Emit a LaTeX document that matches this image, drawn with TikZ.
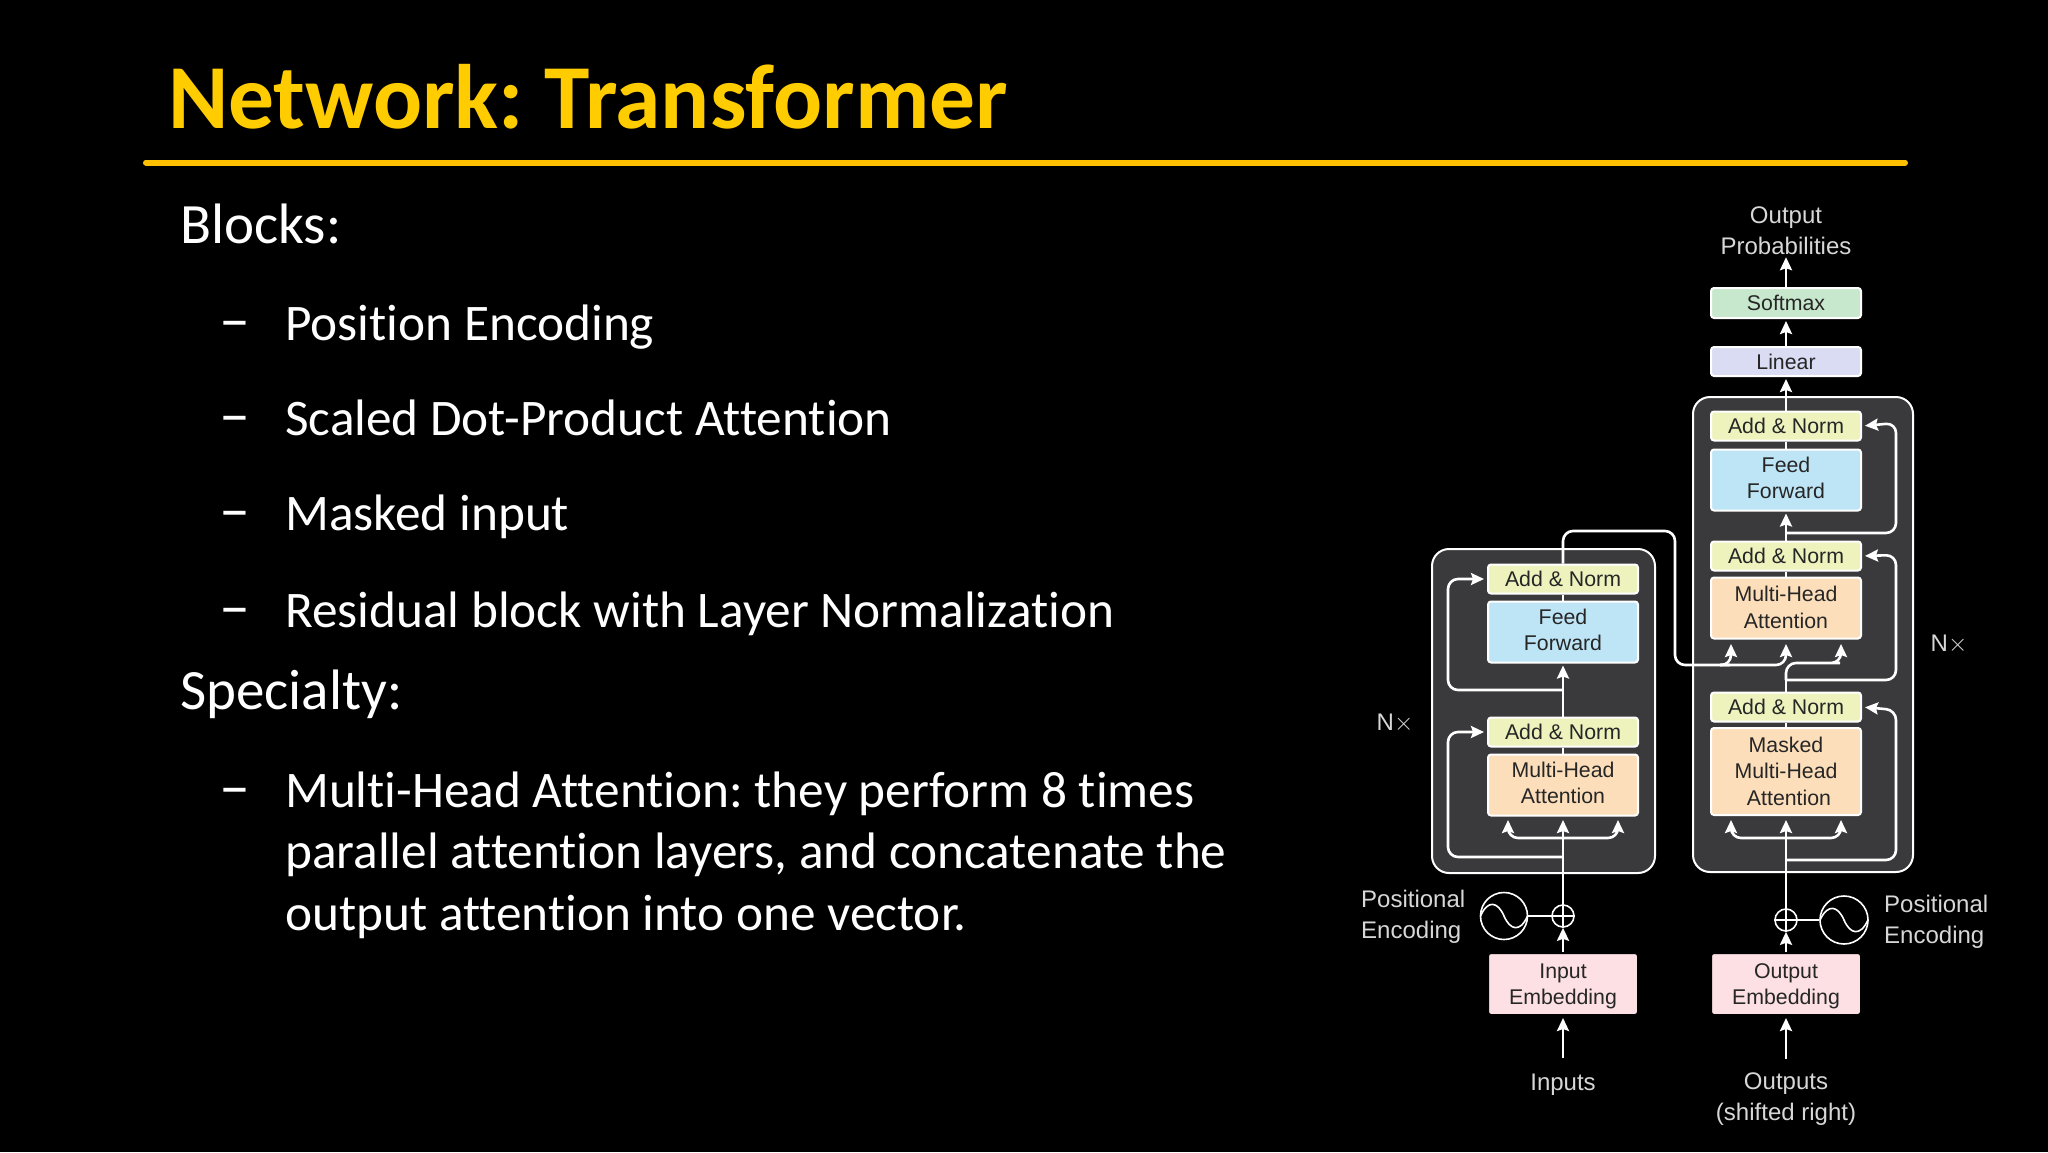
\documentclass[tikz,border=0pt]{standalone}
\usepackage{fontspec}
\usepackage{xcolor}
\setmainfont[Ligatures=NoCommon]{Carlito}
\newfontfamily\diagfont{Liberation Sans}
\frenchspacing
\usetikzlibrary{arrows.meta}
\definecolor{slideyellow}{RGB}{255,204,0}
\definecolor{rulegold}{RGB}{255,192,0}
\definecolor{panelgray}{RGB}{58,58,60}
\definecolor{addcol}{RGB}{238,243,190}
\definecolor{feedcol}{RGB}{190,229,246}
\definecolor{attncol}{RGB}{252,222,186}
\definecolor{embedcol}{RGB}{252,224,228}
\definecolor{softcol}{RGB}{200,232,205}
\definecolor{linearcol}{RGB}{217,220,242}
\definecolor{labelgray}{RGB}{215,215,215}
\tikzset{
  bodytext/.style={anchor=base west,text=white,inner sep=0pt,align=left,font=\fontsize{51.3}{61.5}\selectfont},
  headtext/.style={bodytext,font=\fontsize{57}{61.5}\selectfont},
  dashmark/.style={bodytext,font=\fontsize{62}{61.5}\selectfont},
  panel/.style={draw=white,line width=2pt,fill=panelgray,rounded corners=17pt},
  block/.style={draw=white,line width=2pt,rounded corners=3pt,minimum width=150pt,inner sep=0pt,align=center,text=black!85,font=\diagfont\fontsize{21.3}{26.5}\selectfont},
  addblock/.style={block,fill=addcol,minimum height=29pt},
  feedblock/.style={block,fill=feedcol,minimum height=61pt,text depth=4pt},
  attnblock/.style={block,fill=attncol,minimum height=61pt,text depth=4pt},
  embedblock/.style={block,fill=embedcol,draw=black,minimum height=62pt,text depth=0pt},
  label/.style={text=labelgray,inner sep=0pt,align=center,font=\diagfont\fontsize{24}{31}\selectfont},
  wire/.style={draw=white,line width=2.6pt,rounded corners=10pt},
  arrowwire/.style={wire,-{Stealth[length=13pt,width=12pt,inset=2pt]},shorten >=2pt},
  thinring/.style={circle,draw=white,line width=1.6pt,inner sep=0pt},
}
\begin{document}
\begin{tikzpicture}[x=1pt,y=-1pt]
  \useasboundingbox (0,0) rectangle (2048,1152);
  \fill[black] (0,0) rectangle (2048,1152);

  \node[anchor=base west,inner sep=0pt,text=slideyellow,font=\fontsize{91.5}{91.5}\selectfont\bfseries] (title) at (168,128) {Network: Transformer};
  \draw[rulegold,line width=6pt,line cap=round] (146,162.5) -- (1905,162.5);

  \node[headtext] (blocks) at (180,243) {Blocks:};
  \node[dashmark] (dashA) at (219,340) {--};
  \node[bodytext] (itemA) at (285,340) {Position Encoding};
  \node[dashmark] (dashB) at (219,435) {--};
  \node[bodytext] (itemB) at (285,435) {Scaled Dot-Product Attention};
  \node[dashmark] (dashC) at (219,530) {--};
  \node[bodytext] (itemC) at (285,530) {Masked input};
  \node[dashmark] (dashD) at (219,627) {--};
  \node[bodytext] (itemD) at (285,627) {Residual block with Layer Normalization};
  \node[headtext] (specialty) at (180,709) {Specialty:};
  \node[dashmark] (dashE) at (219,807) {--};
  \node[bodytext] (itemE) at (285,930) {Multi-Head Attention: they perform 8 times\\parallel attention layers, and concatenate the\\output attention into one vector.};

  % the two stacks
  \draw[panel] (1432,549) rectangle (1655,873);
  \draw[panel] (1693,397) rectangle (1913,872);

  \node[addblock] (encaddB) at (1563,579) {Add \& Norm};
  \node[feedblock] (encfeed) at (1563,632) {Feed\\Forward};
  \node[addblock] (encaddA) at (1563,732) {Add \& Norm};
  \node[attnblock] (encattn) at (1563,785) {Multi-Head\\Attention};
  \node[embedblock] (encembed) at (1563,984) {Input\\Embedding};
  \node[thinring,minimum size=22pt] (encplus) at (1563,916) {};
  \node[thinring,minimum size=47pt] (encwave) at (1504,916) {};

  \node[addblock] (decaddC) at (1786,426) {Add \& Norm};
  \node[feedblock] (decfeed) at (1786,480) {Feed\\Forward};
  \node[addblock] (decaddB) at (1786,556) {Add \& Norm};
  \node[attnblock,text depth=1pt] (decattn) at (1786,608) {Multi-Head\\Attention};
  \node[addblock] (decaddA) at (1786,707) {Add \& Norm};
  \node[attnblock,minimum height=87pt,text depth=1pt] (decmask) at (1786,771.5) {Masked\\Multi-Head\\\hspace*{6pt}Attention};
  \node[embedblock] (decembed) at (1786,984) {Output\\Embedding};
  \node[thinring,minimum size=22pt] (decplus) at (1786,920) {};
  \node[thinring,minimum size=48pt] (decwave) at (1844,920) {};
  \node[block,fill=linearcol,minimum height=29pt] (linear) at (1786,361.5) {Linear};
  \node[block,fill=softcol,minimum height=30pt] (softmax) at (1786,303) {Softmax};

  \node[label] (outprob) at (1786,231) {Output\\Probabilities};
  \node[label] (inputs) at (1563,1084.5) {Inputs};
  \node[label] (outputs) at (1786,1099.5) {Outputs\\(shifted right)};
  \node[label,align=left,anchor=west] (encpos) at (1361,916.5) {Positional\\Encoding};
  \node[label,align=left,anchor=west] (decpos) at (1884,921.5) {Positional\\Encoding};
  \node[label] (encN) at (1395,723) {N$\times$};
  \node[label] (decN) at (1949,644) {N$\times$};

  % free ends of the connectors
  \coordinate (inputfoot) at (1563,1058);
  \coordinate (outputfoot) at (1786,1059);
  \coordinate (encresA) at (1563,857);
  \coordinate (encresB) at (1563,690);
  \coordinate (encbendA) at (1448,732);
  \coordinate (encbendB) at (1448,579);
  \coordinate (encfork) at (1563,838);
  \coordinate (encqtip) at (1508,818);
  \coordinate (enckmid) at (1563,818);
  \coordinate (encvtip) at (1618,818);
  \coordinate (crosstop) at (1675,531);
  \coordinate (crosslow) at (1720,665);
  \coordinate (decqtip) at (1731,642);
  \coordinate (decktip) at (1786,642);
  \coordinate (decvtip) at (1841,642);
  \coordinate (decsplit) at (1786,680);
  \coordinate (decright) at (1830,663);
  \coordinate (decresA) at (1786,860);
  \coordinate (decresC) at (1786,533);
  \coordinate (decbendA) at (1896,710);
  \coordinate (decbendB) at (1896,555);
  \coordinate (decbendC) at (1896,423);
  \coordinate (decfork) at (1786,838);
  \coordinate (decmqtip) at (1731,818);
  \coordinate (decmkmid) at (1786,818);
  \coordinate (decmvtip) at (1841,818);

  % encoder
  \draw[arrowwire] (inputfoot) -- (encembed.south);
  \draw[arrowwire,shorten >=0pt] (encembed.north) -- (encplus.south);
  \draw[wire] (encwave.east) -- (encplus.west);
  \draw[wire,line width=1.6pt] (encplus.north) -- (encplus.south) (encplus.west) -- (encplus.east);
  \draw[wire,line width=1.6pt,rounded corners=0pt,shift={(encwave.center)}] (-23.5,0) .. controls (-16,-17) and (-6,-14) .. (0,0) .. controls (6,14) and (16,17) .. (23.5,0);
  \draw[arrowwire] (encplus.north) -- (enckmid);
  \draw[arrowwire] (encfork) -| (encqtip);
  \draw[arrowwire] (encfork) -| (encvtip);
  \draw[arrowwire,shorten >=3pt] (encresA) -| (encbendA) -- (encaddA.west);
  \draw[wire] (encattn.north) -- (encaddA.south);
  \draw[arrowwire] (encaddA.north) -- (encfeed.south);
  \draw[arrowwire,shorten >=3pt] (encresB) -| (encbendB) -- (encaddB.west);
  \draw[wire] (encfeed.north) -- (encaddB.south);
  \draw[wire] (encaddB.north) |- (crosstop) |- (crosslow) -- (1722,665);

  % decoder
  \draw[arrowwire] (outputfoot) -- (decembed.south);
  \draw[arrowwire,shorten >=0pt] (decembed.north) -- (decplus.south);
  \draw[wire] (decwave.west) -- (decplus.east);
  \draw[wire,line width=1.6pt] (decplus.north) -- (decplus.south) (decplus.west) -- (decplus.east);
  \draw[wire,line width=1.6pt,rounded corners=0pt,shift={(decwave.center)}] (-24,0) .. controls (-16,-17) and (-6,-14) .. (0,0) .. controls (6,14) and (16,17) .. (24,0);
  \draw[arrowwire] (decplus.north) -- (decmkmid);
  \draw[arrowwire] (decfork) -| (decmqtip);
  \draw[arrowwire] (decfork) -| (decmvtip);
  \draw[arrowwire,shorten >=3pt] (decresA) -| (decbendA) -- (decaddA.east);
  \draw[wire] (decmask.north) -- (decaddA.south);
  \draw[wire] (decaddA.north) -- (decsplit);
  \draw[arrowwire] (crosslow) -| (decqtip);
  \draw[arrowwire] (crosslow) -| (decktip);
  \draw[arrowwire] (decsplit) |- (decright) -| (decvtip);
  \draw[arrowwire,shorten >=3pt] (decsplit) -| (decbendB) -- (decaddB.east);
  \draw[wire] (decattn.north) -- (decaddB.south);
  \draw[arrowwire] (decaddB.north) -- (decfeed.south);
  \draw[arrowwire,shorten >=3pt] (decresC) -| (decbendC) -- (decaddC.east);
  \draw[wire] (decfeed.north) -- (decaddC.south);
  \draw[arrowwire] (decaddC.north) -- (linear.south);
  \draw[arrowwire] (linear.north) -- (softmax.south);
  \draw[arrowwire] (softmax.north) -- (outprob.south);
\end{tikzpicture}
\end{document}
